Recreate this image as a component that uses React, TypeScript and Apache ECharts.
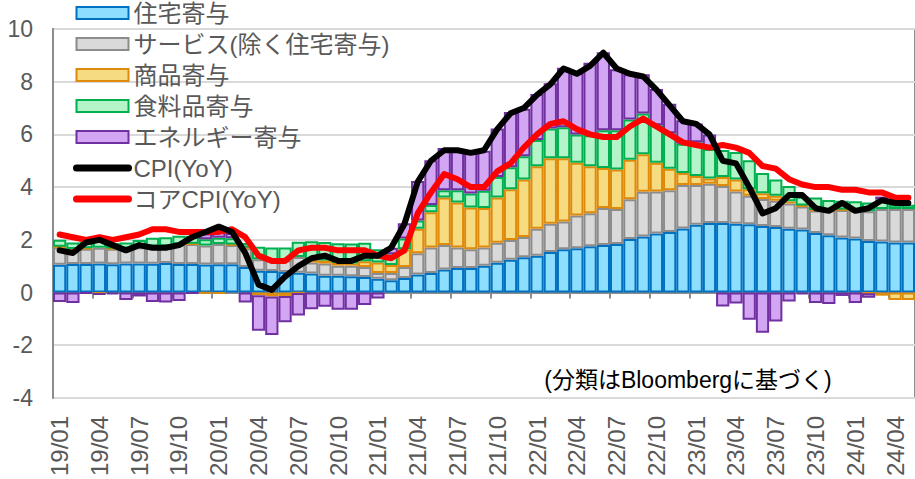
import React, { useEffect, useRef } from "react";
import * as echarts from "echarts";

const months = [
  "19/01","19/02","19/03","19/04","19/05","19/06","19/07","19/08","19/09","19/10","19/11","19/12",
  "20/01","20/02","20/03","20/04","20/05","20/06","20/07","20/08","20/09","20/10","20/11","20/12",
  "21/01","21/02","21/03","21/04","21/05","21/06","21/07","21/08","21/09","21/10","21/11","21/12",
  "22/01","22/02","22/03","22/04","22/05","22/06","22/07","22/08","22/09","22/10","22/11","22/12",
  "23/01","23/02","23/03","23/04","23/05","23/06","23/07","23/08","23/09","23/10","23/11","23/12",
  "24/01","24/02","24/03","24/04","24/05",
];

const housing = [
  1.05,1.08,1.08,1.10,1.07,1.10,1.10,1.09,1.12,1.08,1.08,1.06,
  1.07,1.07,0.97,0.83,0.82,0.78,0.75,0.72,0.64,0.64,0.62,0.59,
  0.52,0.47,0.55,0.68,0.74,0.87,0.93,0.93,1.02,1.13,1.24,1.34,
  1.40,1.54,1.64,1.68,1.76,1.80,1.84,2.03,2.13,2.24,2.30,2.43,
  2.57,2.64,2.64,2.61,2.59,2.52,2.49,2.42,2.39,2.26,2.17,2.09,
  2.05,1.96,1.94,1.90,1.90,
];

const services = [
  0.67,0.56,0.58,0.60,0.59,0.54,0.62,0.64,0.63,0.74,0.76,0.72,
  0.77,0.73,0.71,0.43,0.40,0.44,0.60,0.42,0.46,0.38,0.40,0.38,
  0.22,0.27,0.42,0.81,0.97,0.93,0.78,0.71,0.69,0.76,0.75,0.77,
  1.02,1.07,1.06,1.24,1.25,1.41,1.33,1.51,1.69,1.59,1.58,1.65,
  1.51,1.49,1.40,1.22,1.08,1.03,0.99,0.96,0.87,0.85,0.94,1.04,
  1.06,1.12,1.23,1.27,1.27,
];

const goods = [
  0.02,0.01,0.02,-0.04,0.01,0.03,0.03,0.02,0.01,0.01,0.01,-0.02,
  -0.04,0.02,0.03,-0.10,-0.15,-0.13,-0.02,0.10,0.12,0.10,0.08,0.22,
  0.40,0.30,0.67,0.93,1.34,1.81,1.71,1.59,1.50,1.72,1.93,2.18,
  2.37,2.49,2.40,2.00,1.78,1.52,1.50,1.50,1.43,1.09,0.82,0.46,
  0.34,0.20,0.34,0.46,0.25,0.22,0.19,0.08,0.04,0.02,0.02,0.02,
  0.01,-0.03,-0.12,-0.28,-0.28,
];

const food = [
  0.26,0.25,0.25,0.29,0.21,0.23,0.24,0.33,0.34,0.32,0.30,0.24,
  0.24,0.24,0.17,0.48,0.49,0.49,0.58,0.71,0.70,0.75,0.76,0.70,
  0.50,0.41,0.41,0.31,0.27,0.27,0.46,0.53,0.65,0.77,0.83,0.88,
  1.00,1.12,1.17,1.08,1.18,1.43,1.49,1.53,1.54,1.43,1.34,1.11,
  1.28,1.12,1.03,1.04,1.10,0.77,0.62,0.58,0.33,0.48,0.38,0.33,
  0.34,0.34,0.36,0.16,0.16,
];

const energy = [
  -0.36,-0.40,-0.03,-0.03,-0.07,-0.28,-0.15,-0.36,-0.38,-0.32,-0.03,0.22,
  0.40,0.20,-0.38,-1.35,-1.46,-1.00,-0.85,-0.63,-0.54,-0.65,-0.65,-0.47,
  -0.23,0.25,0.58,1.50,1.70,1.60,1.57,1.53,1.52,1.84,2.10,1.80,
  1.74,1.72,2.26,2.34,2.75,2.96,2.31,1.71,1.49,1.37,1.12,0.89,
  0.71,0.55,-0.53,-0.42,-1.03,-1.53,-1.10,-0.34,-0.07,-0.40,-0.44,-0.13,
  -0.40,-0.17,0.11,0,0,
];

const cpi = [
  1.6,1.5,1.9,2.0,1.8,1.6,1.8,1.7,1.7,1.8,2.1,2.3,
  2.5,2.3,1.5,0.3,0.1,0.6,1.0,1.3,1.4,1.2,1.2,1.4,
  1.4,1.7,2.6,4.2,5.0,5.4,5.4,5.3,5.4,6.2,6.8,7.0,
  7.5,7.9,8.5,8.3,8.6,9.1,8.5,8.3,8.2,7.7,7.1,6.5,
  6.4,6.0,5.0,4.9,4.0,3.0,3.2,3.7,3.7,3.2,3.1,3.4,
  3.1,3.2,3.5,3.4,3.4,
];

const coreCpi = [
  2.2,2.1,2.0,2.1,2.0,2.1,2.2,2.4,2.4,2.3,2.3,2.3,
  2.3,2.4,2.1,1.4,1.2,1.2,1.6,1.7,1.7,1.6,1.6,1.6,
  1.4,1.3,1.6,3.0,3.8,4.5,4.3,4.0,4.0,4.6,4.9,5.5,
  6.0,6.4,6.5,6.2,6.0,5.9,5.9,6.3,6.6,6.3,6.0,5.7,
  5.6,5.5,5.6,5.5,5.3,4.8,4.7,4.3,4.1,4.0,4.0,3.9,
  3.9,3.8,3.8,3.6,3.6,
];

const seriesNames = [
  "住宅寄与",
  "サービス(除く住宅寄与)",
  "商品寄与",
  "食料品寄与",
  "エネルギー寄与",
  "CPI(YoY)",
  "コアCPI(YoY)",
];

const note = "(分類はBloombergに基づく)";

const FONT = "'Liberation Sans', Arial, 'Noto Sans CJK JP', sans-serif";

export default function App() {
  const ref = useRef<HTMLDivElement>(null);
  useEffect(() => {
    if (!ref.current) return;
    const chart = echarts.init(ref.current, undefined, { renderer: "svg" });
    const barStyles = [
      { fill: "#8EDFFF", border: "#0070C0" },
      { fill: "#D9D9D9", border: "#8C8C8C" },
      { fill: "#F7DB80", border: "#DE8A0A" },
      { fill: "#B3F5C8", border: "#00B050" },
      { fill: "#D3A6F4", border: "#7030A0" },
    ];
    const lineColors = ["#000000", "#FF0000"];
    const barData = [housing, services, goods, food, energy];
    const bars = barData.map((d, k) => ({
      name: seriesNames[k],
      type: "bar",
      stack: "total",
      xAxisIndex: 0,
      barCategoryGap: "0%",
      data: d.map((v) => (v === 0 ? "-" : v)),
      itemStyle: {
        color: barStyles[k].fill,
        borderColor: barStyles[k].border,
        borderWidth: 2,
      },
      z: 2,
    }));
    const lines = [
      { name: seriesNames[5], data: cpi, color: lineColors[0], z: 6 },
      { name: seriesNames[6], data: coreCpi, color: lineColors[1], z: 5 },
    ].map((l) => ({
      name: l.name,
      type: "line",
      xAxisIndex: 0,
      data: l.data,
      symbol: "none",
      showSymbol: false,
      lineStyle: { color: l.color, width: 6, cap: "round", join: "round" },
      itemStyle: { color: l.color },
      z: l.z,
    }));

    chart.setOption({
      animation: false,
      backgroundColor: "#ffffff",
      textStyle: { fontFamily: FONT },
      grid: {
        left: 53,
        top: 29,
        height: 374,
        right: -4.7,
        show: true,
        borderColor: "#8C8C8C",
        borderWidth: 2,
        containLabel: false,
      },
      legend: {
        orient: "vertical",
        left: 73,
        top: 1,
        padding: 0,
        itemWidth: 52,
        itemHeight: 12,
        itemGap: 7,
        textStyle: {
          fontFamily: FONT,
          fontSize: 24,
          lineHeight: 24,
          color: "#595959",
        },
        data: seriesNames.map((n, i) =>
          i < 5
            ? { name: n, icon: "rect" }
            : {
                name: n,
                itemStyle: { opacity: 0 },
                lineStyle: { width: 7, color: lineColors[i - 5], cap: "round" },
              }
        ),
      },
      xAxis: [
        {
          type: "category",
          data: months,
          position: "bottom",
          boundaryGap: true,
          axisLine: {
            show: true,
            onZero: true,
            lineStyle: { color: "#8C8C8C", width: 2 },
          },
          axisTick: {
            show: true,
            interval: 2,
            length: 6,
            alignWithLabel: false,
            lineStyle: { color: "#8C8C8C", width: 2 },
          },
          axisLabel: { show: false },
          splitLine: { show: false },
        },
        {
          type: "category",
          data: months,
          position: "bottom",
          boundaryGap: true,
          axisLine: { show: false, onZero: false },
          axisTick: { show: false },
          axisLabel: {
            show: true,
            interval: 2,
            rotate: 90,
            margin: 18,
            fontSize: 24,
            fontFamily: FONT,
            color: "#595959",
          },
          splitLine: { show: false },
        },
      ],
      yAxis: {
        type: "value",
        min: -4,
        max: 10,
        interval: 2,
        axisLine: { show: true, lineStyle: { color: "#8C8C8C", width: 2 } },
        axisTick: { show: false },
        axisLabel: {
          fontSize: 23,
          fontFamily: FONT,
          color: "#595959",
          margin: 20,
        },
        splitLine: { show: true, lineStyle: { color: "#D9D9D9", width: 2 } },
      },
      graphic: [
        {
          type: "text",
          x: 688,
          y: 380,
          style: {
            text: note,
            fontSize: 23,
            fontFamily: FONT,
            fill: "#000000",
            textAlign: "center",
            textVerticalAlign: "middle",
          },
          z: 10,
        },
      ],
      series: [...bars, ...lines],
    });
    return () => chart.dispose();
  }, []);
  return (
    <div
      ref={ref}
      style={{ position: "fixed", left: 0, top: 0, width: 915, height: 479 }}
    />
  );
}
